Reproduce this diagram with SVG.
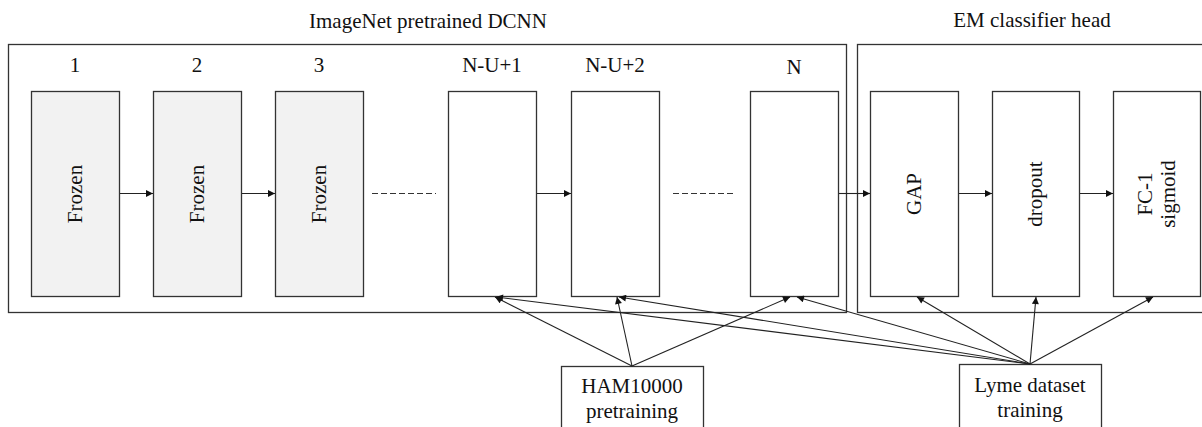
<svg xmlns="http://www.w3.org/2000/svg" width="1202" height="427" viewBox="0 0 1202 427">
<style>
text{font-family:"Liberation Serif","Times New Roman",serif;font-size:21px;fill:#111;text-anchor:middle}
.box{fill:#fff;stroke:#333;stroke-width:1.3}
.frz{fill:#f2f2f2;stroke:#333;stroke-width:1.3}
.c{stroke:#222;stroke-width:1.1;fill:none}
.d{stroke:#333;stroke-width:1.1;stroke-dasharray:6,3;fill:none}
</style>
<defs>
<marker id="ah" viewBox="0 0 10 10" refX="10" refY="5" markerWidth="8" markerHeight="7" markerUnits="userSpaceOnUse" orient="auto">
<path d="M0,0 L10,5 L0,10 z" fill="#111"/>
</marker>
</defs>
<rect width="1202" height="427" fill="#fff"/>
<g id="dcnn">
<rect class="box" x="8.5" y="44.5" width="838" height="268"/>
<text x="428" y="28">ImageNet pretrained DCNN</text>
</g>
<g id="head">
<rect class="box" x="857.5" y="44.5" width="360" height="268"/>
<text x="1032" y="27">EM classifier head</text>
</g>
<g id="b1"><rect class="frz" x="31.5" y="91.5" width="88" height="205"/><text x="75" y="72">1</text><text transform="translate(82,194) rotate(-90)">Frozen</text></g>
<g id="b2"><rect class="frz" x="153.5" y="91.5" width="88" height="205"/><text x="197" y="72">2</text><text transform="translate(204,194) rotate(-90)">Frozen</text></g>
<g id="b3"><rect class="frz" x="275.5" y="91.5" width="88" height="205"/><text x="319" y="72">3</text><text transform="translate(326,194) rotate(-90)">Frozen</text></g>
<g id="bu1"><rect class="box" x="448.5" y="91.5" width="88" height="205"/><text x="492" y="72">N-U+1</text></g>
<g id="bu2"><rect class="box" x="571.5" y="91.5" width="88" height="205"/><text x="615" y="72">N-U+2</text></g>
<g id="bn"><rect class="box" x="750.5" y="91.5" width="88" height="205"/><text x="794" y="74">N</text></g>
<g id="gap"><rect class="box" x="870.5" y="91.5" width="88" height="205"/><text transform="translate(921,194) rotate(-90)">GAP</text></g>
<g id="dropout"><rect class="box" x="992.5" y="91.5" width="87" height="205"/><text transform="translate(1042,194) rotate(-90)">dropout</text></g>
<g id="fc"><rect class="box" x="1113.5" y="91.5" width="87" height="205"/><text transform="translate(1152,194) rotate(-90)">FC-1</text><text transform="translate(1175,194) rotate(-90)">sigmoid</text></g>
<g id="ham"><rect class="box" x="561.5" y="366.5" width="142" height="70"/><text x="632" y="393">HAM10000</text><text x="632" y="418">pretraining</text></g>
<g id="lyme"><rect class="box" x="959.5" y="364.5" width="142" height="72"/><text x="1030" y="392">Lyme dataset</text><text x="1030" y="417">training</text></g>
<g id="connectors">
<line class="c" x1="120" y1="193.5" x2="153" y2="193.5" marker-end="url(#ah)"/>
<line class="c" x1="242" y1="193.5" x2="275" y2="193.5" marker-end="url(#ah)"/>
<line class="d" x1="372" y1="193.5" x2="436" y2="193.5"/>
<line class="c" x1="537" y1="193.5" x2="571" y2="193.5" marker-end="url(#ah)"/>
<line class="d" x1="673" y1="193.5" x2="736" y2="193.5"/>
<line class="c" x1="839" y1="193.5" x2="870" y2="193.5" marker-end="url(#ah)"/>
<line class="c" x1="959" y1="193.5" x2="992" y2="193.5" marker-end="url(#ah)"/>
<line class="c" x1="1080" y1="193.5" x2="1113" y2="193.5" marker-end="url(#ah)"/>
<line class="c" x1="632" y1="366" x2="495" y2="297" marker-end="url(#ah)"/>
<line class="c" x1="632" y1="366" x2="617" y2="297" marker-end="url(#ah)"/>
<line class="c" x1="632" y1="366" x2="790" y2="297" marker-end="url(#ah)"/>
<line class="c" x1="1030" y1="364" x2="496" y2="297" marker-end="url(#ah)"/>
<line class="c" x1="1030" y1="364" x2="619" y2="297" marker-end="url(#ah)"/>
<line class="c" x1="1030" y1="364" x2="797" y2="297" marker-end="url(#ah)"/>
<line class="c" x1="1030" y1="364" x2="917" y2="297" marker-end="url(#ah)"/>
<line class="c" x1="1030" y1="364" x2="1036" y2="297" marker-end="url(#ah)"/>
<line class="c" x1="1030" y1="364" x2="1153" y2="297" marker-end="url(#ah)"/>
</g>
</svg>
